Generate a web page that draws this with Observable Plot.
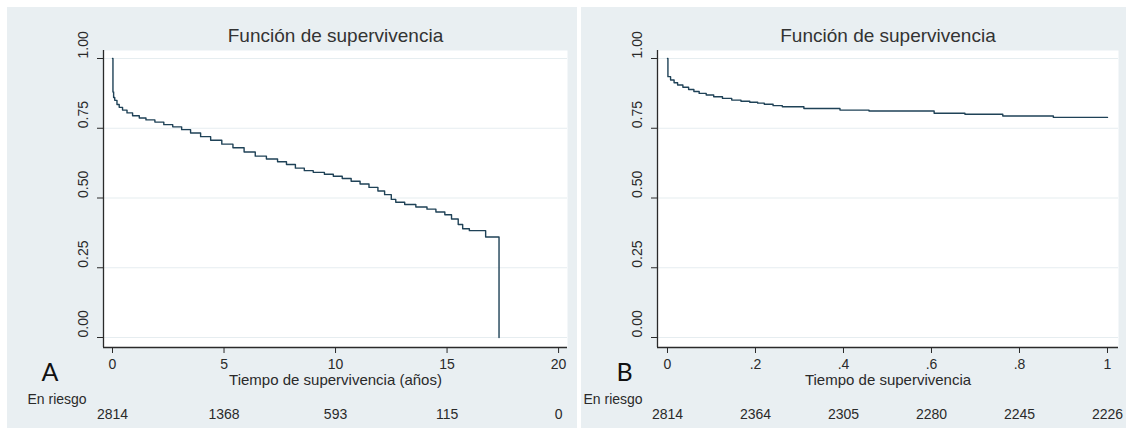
<!DOCTYPE html>
<html>
<head>
<meta charset="utf-8">
<script src="https://cdn.jsdelivr.net/npm/d3@7"></script>
<script src="https://cdn.jsdelivr.net/npm/@observablehq/plot@0.6"></script>
<style>
  html, body { margin: 0; padding: 0; background: #ffffff; }
  #wrap { position: relative; width: 1133px; height: 428px; background: #ffffff; overflow: hidden; }
  .panel { position: absolute; top: 7px; height: 421px; background: #e9eff2; }
  .panel svg { display: block; }
</style>
</head>
<body>
<div id="wrap">
  <div class="panel" id="pA" style="left:7px;width:570px;"></div>
  <div class="panel" id="pB" style="left:581px;width:545px;"></div>
</div>
<script>
// ---- data ----
const titleText = "Función de supervivencia";
const yTicks = [0, 0.25, 0.5, 0.75, 1];

// Panel A
const timesA = [0, 0.02, 0.05, 0.1, 0.2, 0.3, 0.45, 0.65, 0.9, 1.2, 1.5, 1.9, 2.3, 2.7, 3.1, 3.5, 3.95, 4.4, 4.9, 5.4, 5.9, 6.4, 6.9, 7.4, 7.8, 8.2, 8.6, 9.0, 9.5, 9.9, 10.3, 10.7, 11.1, 11.5, 11.9, 12.2, 12.5, 12.7, 13.1, 13.6, 14.1, 14.5, 14.9, 15.2, 15.5, 15.7, 16.0, 16.73, 17.33];
const survA = [1.0, 0.88, 0.86, 0.85, 0.835, 0.825, 0.815, 0.805, 0.795, 0.787, 0.78, 0.772, 0.763, 0.755, 0.745, 0.733, 0.72, 0.707, 0.693, 0.68, 0.665, 0.65, 0.64, 0.63, 0.62, 0.607, 0.598, 0.592, 0.585, 0.578, 0.57, 0.56, 0.55, 0.538, 0.525, 0.512, 0.495, 0.485, 0.477, 0.468, 0.46, 0.45, 0.44, 0.425, 0.405, 0.39, 0.383, 0.36, 0.0];
const xTicksA = [0, 5, 10, 15, 20];
const xLabelsA = ["0", "5", "10", "15", "20"];
const riskA = [2814, 1368, 593, 115, 0];
const xTitleA = "Tiempo de supervivencia (años)";
const letterA = "A";

// Panel B
const timesB = [0, 0.001, 0.007, 0.015, 0.023, 0.035, 0.048, 0.06, 0.072, 0.088, 0.105, 0.125, 0.146, 0.167, 0.187, 0.205, 0.22, 0.24, 0.261, 0.31, 0.392, 0.458, 0.606, 0.676, 0.762, 0.877, 1.0];
const survB = [1.0, 0.935, 0.923, 0.913, 0.905, 0.897, 0.889, 0.882, 0.875, 0.869, 0.863, 0.857, 0.851, 0.847, 0.843, 0.84, 0.836, 0.831, 0.827, 0.821, 0.815, 0.812, 0.804, 0.80, 0.794, 0.789, 0.789];
const xTicksB = [0, 0.2, 0.4, 0.6, 0.8, 1];
const xLabelsB = ["0", ".2", ".4", ".6", ".8", "1"];
const riskB = [2814, 2364, 2305, 2280, 2245, 2226];
const xTitleB = "Tiempo de supervivencia";
const letterB = "B";

const riskLabel = "En riesgo";

// ---- style ----
const curveColor = "#1f4257";
const gridColor = "#e6edf0";
const axisColor = "#2a2a2a";
const textColor = "#2a2a2a";
const font = "'Liberation Sans', Arial, sans-serif";

function panel({width, marginLeft, marginRight, xDomain, times, surv, xTicks, xLabels, risk, xTitle, letter, letterDx, riskDx}) {
  const yDomain = [-0.0358, 1.0287];
  const data = times.map((t, i) => ({t, s: surv[i]}));
  return Plot.plot({
    width, height: 421,
    marginLeft, marginRight, marginTop: 43, marginBottom: 81,
    x: {domain: xDomain},
    y: {domain: yDomain},
    style: {background: "transparent", fontFamily: font, color: axisColor, overflow: "visible"},
    marks: [
      Plot.frame({fill: "white", stroke: "none"}),
      Plot.ruleY(yTicks, {stroke: gridColor, strokeWidth: 1.2}),
      Plot.line(data, {x: "t", y: "s", curve: "step-after", stroke: curveColor, strokeWidth: 1.4}),
      Plot.ruleX([xDomain[0]], {stroke: axisColor, strokeWidth: 1.3}),
      Plot.ruleY([yDomain[0]], {stroke: axisColor, strokeWidth: 1.3}),
      Plot.axisY({ticks: yTicks, tickSize: 6, tickFormat: () => "", label: null, stroke: axisColor}),
      Plot.text(yTicks, {y: d => d, text: d => d3.format(".2f")(d), frameAnchor: "left", dx: -20, rotate: -90, fontSize: 14, fill: textColor}),
      Plot.axisX({ticks: xTicks, tickSize: 6, tickPadding: 6, fontSize: 14, label: null, stroke: axisColor, fill: textColor,
                  tickFormat: d => xLabels[xTicks.findIndex(v => Math.abs(v - d) < 1e-9)]}),
      Plot.text([titleText], {frameAnchor: "top", lineAnchor: "middle", dy: -15, fontSize: 19, fill: "#333"}),
      Plot.text([xTitle], {frameAnchor: "bottom", lineAnchor: "middle", dy: 33, fontSize: 15, fill: textColor}),
      Plot.text([letter], {frameAnchor: "bottom-left", lineAnchor: "middle", dx: letterDx, dy: 25, fontSize: 25, fill: "#111", fontFamily: "Lato, 'Open Sans', sans-serif"}),
      Plot.text([riskLabel], {frameAnchor: "bottom-left", lineAnchor: "middle", textAnchor: "start", dx: riskDx, dy: 52, fontSize: 14, fill: textColor}),
      Plot.text(risk, {x: (d, i) => xTicks[i], text: d => String(d), frameAnchor: "bottom", lineAnchor: "middle", dy: 67, fontSize: 14, fill: textColor})
    ]
  });
}

document.getElementById("pA").append(panel({
  width: 570, marginLeft: 96, marginRight: 10,
  xDomain: [-0.404, 20.40],
  times: timesA, surv: survA, xTicks: xTicksA, xLabels: xLabelsA, risk: riskA,
  xTitle: xTitleA, letter: letterA, letterDx: -62, riskDx: -76
}));

document.getElementById("pB").append(panel({
  width: 545, marginLeft: 76, marginRight: 8,
  xDomain: [-0.0227, 1.025],
  times: timesB, surv: survB, xTicks: xTicksB, xLabels: xLabelsB, risk: riskB,
  xTitle: xTitleB, letter: letterB, letterDx: -41, riskDx: -74
}));
</script>
</body>
</html>
